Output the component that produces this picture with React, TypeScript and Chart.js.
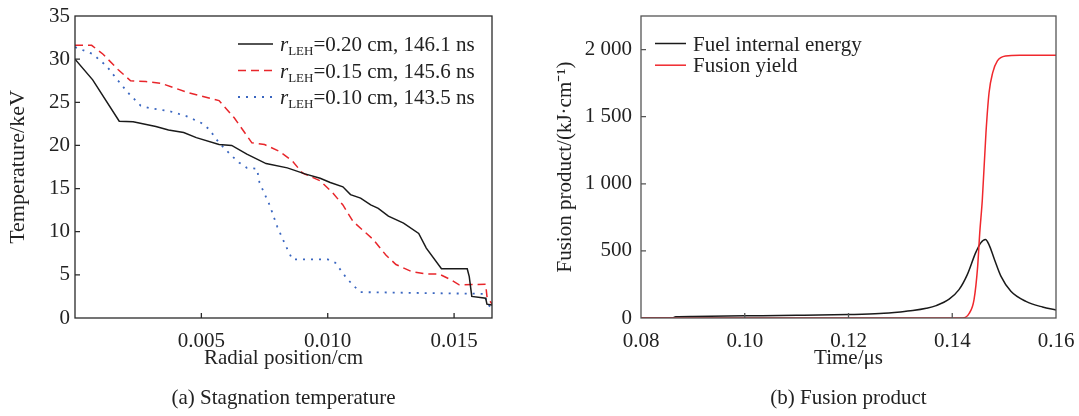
import React, { useEffect, useRef } from "react";
import { Chart, registerables } from "chart.js";

Chart.register(...registerables);

const FONT = "'Liberation Serif', 'Times New Roman', serif";
const TEXT = "#222";

// ---------- (a) Stagnation temperature ----------
const radius020 = [0, 0.0007, 0.00175, 0.0023, 0.0032, 0.0037, 0.0043, 0.0048, 0.0057, 0.0062, 0.0068, 0.00756, 0.0084, 0.0091, 0.0097, 0.0101, 0.0106, 0.0109, 0.0113, 0.0117, 0.012, 0.0124, 0.013, 0.0136, 0.0139, 0.0145, 0.01552, 0.0156, 0.0157, 0.01625, 0.0163, 0.0165];
const temp020 = [30.0, 27.6, 22.8, 22.75, 22.2, 21.8, 21.5, 20.9, 20.1, 20.0, 19.0, 17.9, 17.4, 16.7, 16.2, 15.7, 15.2, 14.3, 13.9, 13.1, 12.7, 11.8, 11.0, 9.8, 8.1, 5.7, 5.7, 4.8, 2.5, 2.3, 1.6, 1.5];

const radius015 = [0, 0.00066, 0.0011, 0.0017, 0.0022, 0.0028, 0.0034, 0.0039, 0.0045, 0.0057, 0.0063, 0.007, 0.0075, 0.0081, 0.0086, 0.009, 0.0097, 0.0102, 0.0106, 0.011, 0.0113, 0.0118, 0.0123, 0.0127, 0.0133, 0.0139, 0.0144, 0.0149, 0.0152, 0.01625, 0.0163, 0.0165];
const temp015 = [31.6, 31.6, 30.6, 28.8, 27.5, 27.4, 27.2, 26.7, 26.1, 25.2, 23.2, 20.3, 20.1, 19.3, 18.2, 16.8, 15.9, 14.5, 13.1, 11.2, 10.4, 9.1, 7.3, 6.2, 5.4, 5.1, 5.1, 4.4, 3.85, 3.9, 2.5, 1.6];

const radius010 = [0, 0.0007, 0.00125, 0.00165, 0.0021, 0.0026, 0.003, 0.0037, 0.0044, 0.005, 0.0053, 0.0057, 0.0062, 0.0065, 0.0068, 0.0072, 0.0073, 0.0077, 0.008, 0.00835, 0.0086, 0.01, 0.0103, 0.0107, 0.011, 0.0113, 0.0136, 0.0162, 0.0163, 0.0165];
const temp010 = [31.4, 30.6, 29.2, 27.7, 26.1, 24.6, 24.3, 24.0, 23.4, 22.6, 21.9, 20.3, 18.8, 18.0, 17.4, 17.3, 15.7, 13.1, 10.6, 8.3, 6.8, 6.8, 6.4, 4.8, 3.8, 3.0, 2.9, 2.8, 1.7, 1.1];

const radialTicks = [0.005, 0.01, 0.015];
const tempTicks = [0, 5, 10, 15, 20, 25, 30, 35];
const legendA = ["=0.20 cm, 146.1 ns", "=0.15 cm, 145.6 ns", "=0.10 cm, 143.5 ns"];
const captionA = "(a) Stagnation temperature";

// ---------- (b) Fusion product ----------
const timeFuel = [0.08, 0.086, 0.0867, 0.09, 0.1, 0.11, 0.12, 0.126, 0.13, 0.1324, 0.135, 0.1369, 0.1394, 0.1413, 0.1429, 0.1445, 0.1455, 0.1464, 0.1471, 0.1481, 0.1494, 0.1513, 0.1542, 0.1574, 0.16];
const energyFuel = [0, 0, 10, 12, 16, 20, 26, 33, 45, 55, 72, 92, 140, 211, 323, 485, 560, 585, 545, 440, 310, 199, 124, 82, 60];

const timeYield = [0.08, 0.142, 0.1433, 0.1442, 0.1449, 0.1453, 0.1458, 0.1465, 0.1471, 0.1478, 0.1487, 0.1503, 0.153, 0.16];
const energyYield = [0, 0, 37, 137, 385, 634, 883, 1380, 1680, 1828, 1915, 1952, 1957, 1957];

const timeTicks = [0.08, 0.1, 0.12, 0.14, 0.16];
const productTicks = [0, 500, 1000, 1500, 2000];
const legendB = ["Fuel internal energy", "Fusion yield"];
const captionB = "(b) Fusion product";

const zip = (xs: number[], ys: number[]) => xs.map((x, i) => ({ x, y: ys[i] }));

const framePlugin = (color: string, len: number) => ({
  id: "frameTicks",
  afterDatasetsDraw(chart: any) {
    const { ctx, chartArea: a, scales } = chart;
    ctx.save();
    ctx.strokeStyle = color;
    ctx.lineWidth = 1.3;
    ctx.setLineDash([]);
    ctx.strokeRect(a.left, a.top, a.right - a.left, a.bottom - a.top);
    ctx.beginPath();
    for (const t of scales.x.ticks) {
      const px = scales.x.getPixelForValue(t.value);
      if (px > a.left + 2 && px < a.right - 2) {
        ctx.moveTo(px, a.bottom);
        ctx.lineTo(px, a.bottom - len);
      }
    }
    for (const t of scales.y.ticks) {
      const py = scales.y.getPixelForValue(t.value);
      if (py > a.top + 2 && py < a.bottom - 2) {
        ctx.moveTo(a.left, py);
        ctx.lineTo(a.left + len, py);
      }
    }
    ctx.stroke();
    ctx.restore();
  },
});

const captionPlugin = (text: string, y: number) => ({
  id: "caption",
  afterDraw(chart: any) {
    const { ctx, chartArea: a } = chart;
    ctx.save();
    ctx.fillStyle = TEXT;
    ctx.font = `21px ${FONT}`;
    ctx.textAlign = "center";
    ctx.textBaseline = "middle";
    ctx.fillText(text, (a.left + a.right) / 2, y);
    ctx.restore();
  },
});

type Part = { text: string; font: string; dy?: number };
type LegendRow = { x0: number; x1: number; y: number; color: string; dash: number[]; width: number; tx: number; parts: Part[] };

const legendPlugin = (rows: LegendRow[]) => ({
  id: "richLegend",
  afterDraw(chart: any) {
    const ctx = chart.ctx;
    ctx.save();
    for (const r of rows) {
      ctx.strokeStyle = r.color;
      ctx.lineWidth = r.width;
      ctx.setLineDash(r.dash);
      ctx.beginPath();
      ctx.moveTo(r.x0, r.y);
      ctx.lineTo(r.x1, r.y);
      ctx.stroke();
      ctx.setLineDash([]);
      ctx.fillStyle = TEXT;
      ctx.textBaseline = "alphabetic";
      ctx.textAlign = "left";
      let cx = r.tx;
      for (const p of r.parts) {
        ctx.font = p.font;
        ctx.fillText(p.text, cx, r.y + 7 + (p.dy || 0));
        cx += ctx.measureText(p.text).width;
      }
    }
    ctx.restore();
  },
});

const fixTicks = (vals: number[]) => (scale: any) => {
  scale.ticks = vals.map((v) => ({ value: v }));
};

const fitX = (s: any) => {
  s.height = 53;
  s.paddingLeft = 0;
  s.paddingRight = 0;
};
const fitY = (w: number) => (s: any) => {
  s.width = w;
  s.paddingTop = 0;
  s.paddingBottom = 0;
};

function ChartA() {
  const ref = useRef<HTMLCanvasElement>(null);
  useEffect(() => {
    const styles = [
      { color: "#1a1a1a", dash: [] as number[], width: 1.5 },
      { color: "#e8262b", dash: [8, 5], width: 1.5 },
      { color: "#3a66c0", dash: [2, 6], width: 1.8 },
    ];
    const main = `21px ${FONT}`;
    const rows: LegendRow[] = legendA.map((txt, i) => ({
      x0: 238, x1: 273, y: 44 + i * 26.5, color: styles[i].color, dash: styles[i].dash, width: styles[i].width, tx: 280,
      parts: [
        { text: "r", font: `italic 21px ${FONT}` },
        { text: "LEH", font: `13px ${FONT}`, dy: 4 },
        { text: txt, font: main },
      ],
    }));
    const chart = new Chart(ref.current!, {
      type: "line",
      data: {
        datasets: [
          { data: zip(radius020, temp020), borderColor: styles[0].color, borderWidth: styles[0].width, borderDash: styles[0].dash },
          { data: zip(radius015, temp015), borderColor: styles[1].color, borderWidth: styles[1].width, borderDash: styles[1].dash },
          { data: zip(radius010, temp010), borderColor: styles[2].color, borderWidth: styles[2].width, borderDash: styles[2].dash },
        ] as any,
      },
      options: {
        responsive: false,
        animation: false,
        events: [],
        elements: { point: { radius: 0 }, line: { tension: 0, fill: false } },
        layout: { padding: { top: 16, right: 48, left: 0, bottom: 45 } },
        plugins: { legend: { display: false }, tooltip: { enabled: false }, title: { display: false } },
        scales: {
          x: {
            type: "linear", min: 0, max: 0.0165,
            afterBuildTicks: fixTicks(radialTicks),
            afterFit: fitX,
            grid: { display: false, drawTicks: false }, border: { display: false },
            ticks: { color: TEXT, font: { family: FONT, size: 21 }, padding: 11, maxRotation: 0, callback: (v: any) => Number(v).toFixed(3) },
            title: { display: true, text: "Radial position/cm", color: TEXT, font: { family: FONT, size: 21 }, padding: { top: 0, bottom: 0 } },
          },
          y: {
            type: "linear", min: 0, max: 35,
            afterBuildTicks: fixTicks(tempTicks),
            afterFit: fitY(75),
            grid: { display: false, drawTicks: false }, border: { display: false },
            ticks: { color: TEXT, font: { family: FONT, size: 21 }, padding: 5 },
            title: { display: true, text: "Temperature/keV", color: TEXT, font: { family: FONT, size: 22 }, padding: { top: 4.8, bottom: 0 } },
          },
        },
      } as any,
      plugins: [framePlugin("#2a2a2a", 5), legendPlugin(rows), captionPlugin(captionA, 398)],
    });
    return () => chart.destroy();
  }, []);
  return <canvas ref={ref} width={540} height={416} style={{ display: "block" }} />;
}

function ChartB() {
  const ref = useRef<HTMLCanvasElement>(null);
  useEffect(() => {
    const colors = ["#1a1a1a", "#f0282d"];
    const rows: LegendRow[] = legendB.map((txt, i) => ({
      x0: 115, x1: 146, y: 43.5 + i * 21.7, color: colors[i], dash: [], width: 1.5, tx: 153,
      parts: [{ text: txt, font: `21px ${FONT}` }],
    }));
    const chart = new Chart(ref.current!, {
      type: "line",
      data: {
        datasets: [
          { data: zip(timeFuel, energyFuel), borderColor: colors[0], borderWidth: 1.5, order: 1 },
          { data: zip(timeYield, energyYield), borderColor: colors[1], borderWidth: 1.5, order: 0 },
        ] as any,
      },
      options: {
        responsive: false,
        animation: false,
        events: [],
        elements: { point: { radius: 0 }, line: { cubicInterpolationMode: "monotone", fill: false } },
        layout: { padding: { top: 16, right: 23, left: 0, bottom: 45 } },
        plugins: { legend: { display: false }, tooltip: { enabled: false }, title: { display: false } },
        scales: {
          x: {
            type: "linear", min: 0.08, max: 0.16,
            afterBuildTicks: fixTicks(timeTicks),
            afterFit: fitX,
            grid: { display: false, drawTicks: false }, border: { display: false },
            ticks: { color: TEXT, font: { family: FONT, size: 21 }, padding: 11, maxRotation: 0, callback: (v: any) => Number(v).toFixed(2) },
            title: { display: true, text: "Time/μs", color: TEXT, font: { family: FONT, size: 21 }, padding: { top: 0, bottom: 0 } },
          },
          y: {
            type: "linear", min: 0, max: 2250,
            afterBuildTicks: fixTicks(productTicks),
            afterFit: fitY(101),
            grid: { display: false, drawTicks: false }, border: { display: false },
            ticks: {
              color: TEXT, font: { family: FONT, size: 21 }, padding: 9,
              callback: (v: any) => {
                const n = Number(v);
                return n >= 1000 ? `${Math.floor(n / 1000)} ${String(n % 1000).padStart(3, "0")}` : String(n);
              },
            },
            title: { display: true, text: "Fusion product/(kJ·cm⁻¹)", color: TEXT, font: { family: FONT, size: 21 }, padding: { top: 12.4, bottom: 0 } },
          },
        },
      } as any,
      plugins: [framePlugin("#555555", 5), legendPlugin(rows), captionPlugin(captionB, 398)],
    });
    return () => chart.destroy();
  }, []);
  return <canvas ref={ref} width={539} height={416} style={{ display: "block" }} />;
}

export default function App() {
  return (
    <div style={{ position: "absolute", left: 0, top: 0, width: 1079, height: 416, background: "#fff", overflow: "hidden" }}>
      <div style={{ position: "absolute", left: 0, top: 0 }}>
        <ChartA />
      </div>
      <div style={{ position: "absolute", left: 540, top: 0 }}>
        <ChartB />
      </div>
    </div>
  );
}
